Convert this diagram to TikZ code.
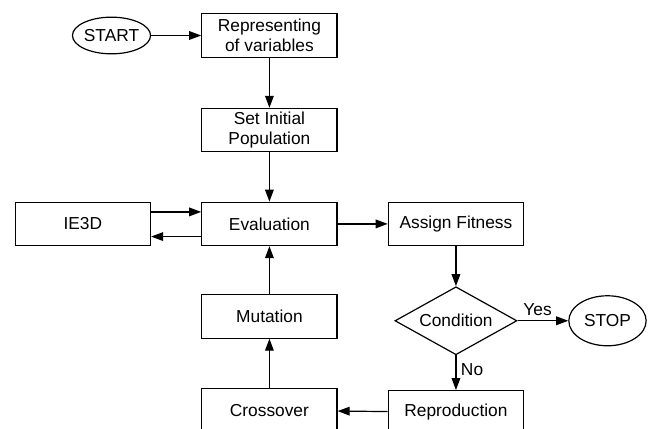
\documentclass[tikz,border=0pt]{standalone}
\usepackage{fontspec}
\setmainfont{Liberation Sans}
\usepackage{tikz}
\usetikzlibrary{arrows.meta,positioning,shapes.geometric,calc}

\begin{document}
\begin{tikzpicture}[
  x=0.75pt,y=0.75pt,
  font=\fontsize{13}{15}\selectfont,
  line width=0.9pt,
  node distance=37.5pt,
  stepbox/.style={draw,minimum width=101.5pt,minimum height=32.5pt,align=center,inner sep=1pt},
  term/.style={draw,ellipse,inner sep=0pt,minimum width=58pt},
  test/.style={draw,diamond,aspect=1.8,inner sep=0pt,minimum width=91.5pt,minimum height=51pt},
  flow/.style={-{Triangle[length=9pt,width=6.5pt]}}
]
  \useasboundingbox (0,0) rectangle (652,-428);
  \node[term,minimum height=27.5pt] (start) at (111.5,-35.5) {START};
  \node[stepbox,right=37.5pt of start] (repr) {Representing\\of variables};
  \node[stepbox,below=37.5pt of repr] (init) {Set Initial\\Population};
  \node[stepbox,below=37pt of init] (eval) {Evaluation};
  \node[stepbox,left=37.5pt of eval] (ie3d) {IE3D};
  \node[stepbox,right=37.5pt of eval] (assign) {Assign Fitness};
  \node[test,below=30pt of assign] (cond) {Condition};
  \node[term,minimum height=37.5pt,right=38pt of cond] (stop) {STOP};
  \node[stepbox,below=26pt of cond] (repro) {Reproduction};
  \node[stepbox,below=36pt of eval] (mut) {Mutation};
  \node[stepbox,below=37pt of mut] (cross) {Crossover};
  % main flow
  \draw[flow] (start) -- (repr);
  \draw[flow] (repr) -- (init);
  \draw[flow] (init) -- (eval);
  \draw[flow] ([yshift=9pt]ie3d.east) -- ([yshift=9pt]eval.west);
  \draw[flow] ([yshift=-9.5pt]eval.west) -- ([yshift=-9.5pt]ie3d.east);
  \draw[flow] (eval) -- (assign);
  \draw[flow] (assign) -- (cond);
  \draw[flow] (cond) -- (stop) node[midway,above,xshift=-4pt]{Yes};
  \draw[flow] (cond) -- (repro) node[pos=0.4,right]{No};
  % loop back
  \draw[flow] (repro) -- (cross);
  \draw[flow] (cross) -- (mut);
  \draw[flow] (mut) -- (eval);
\end{tikzpicture}
\end{document}
